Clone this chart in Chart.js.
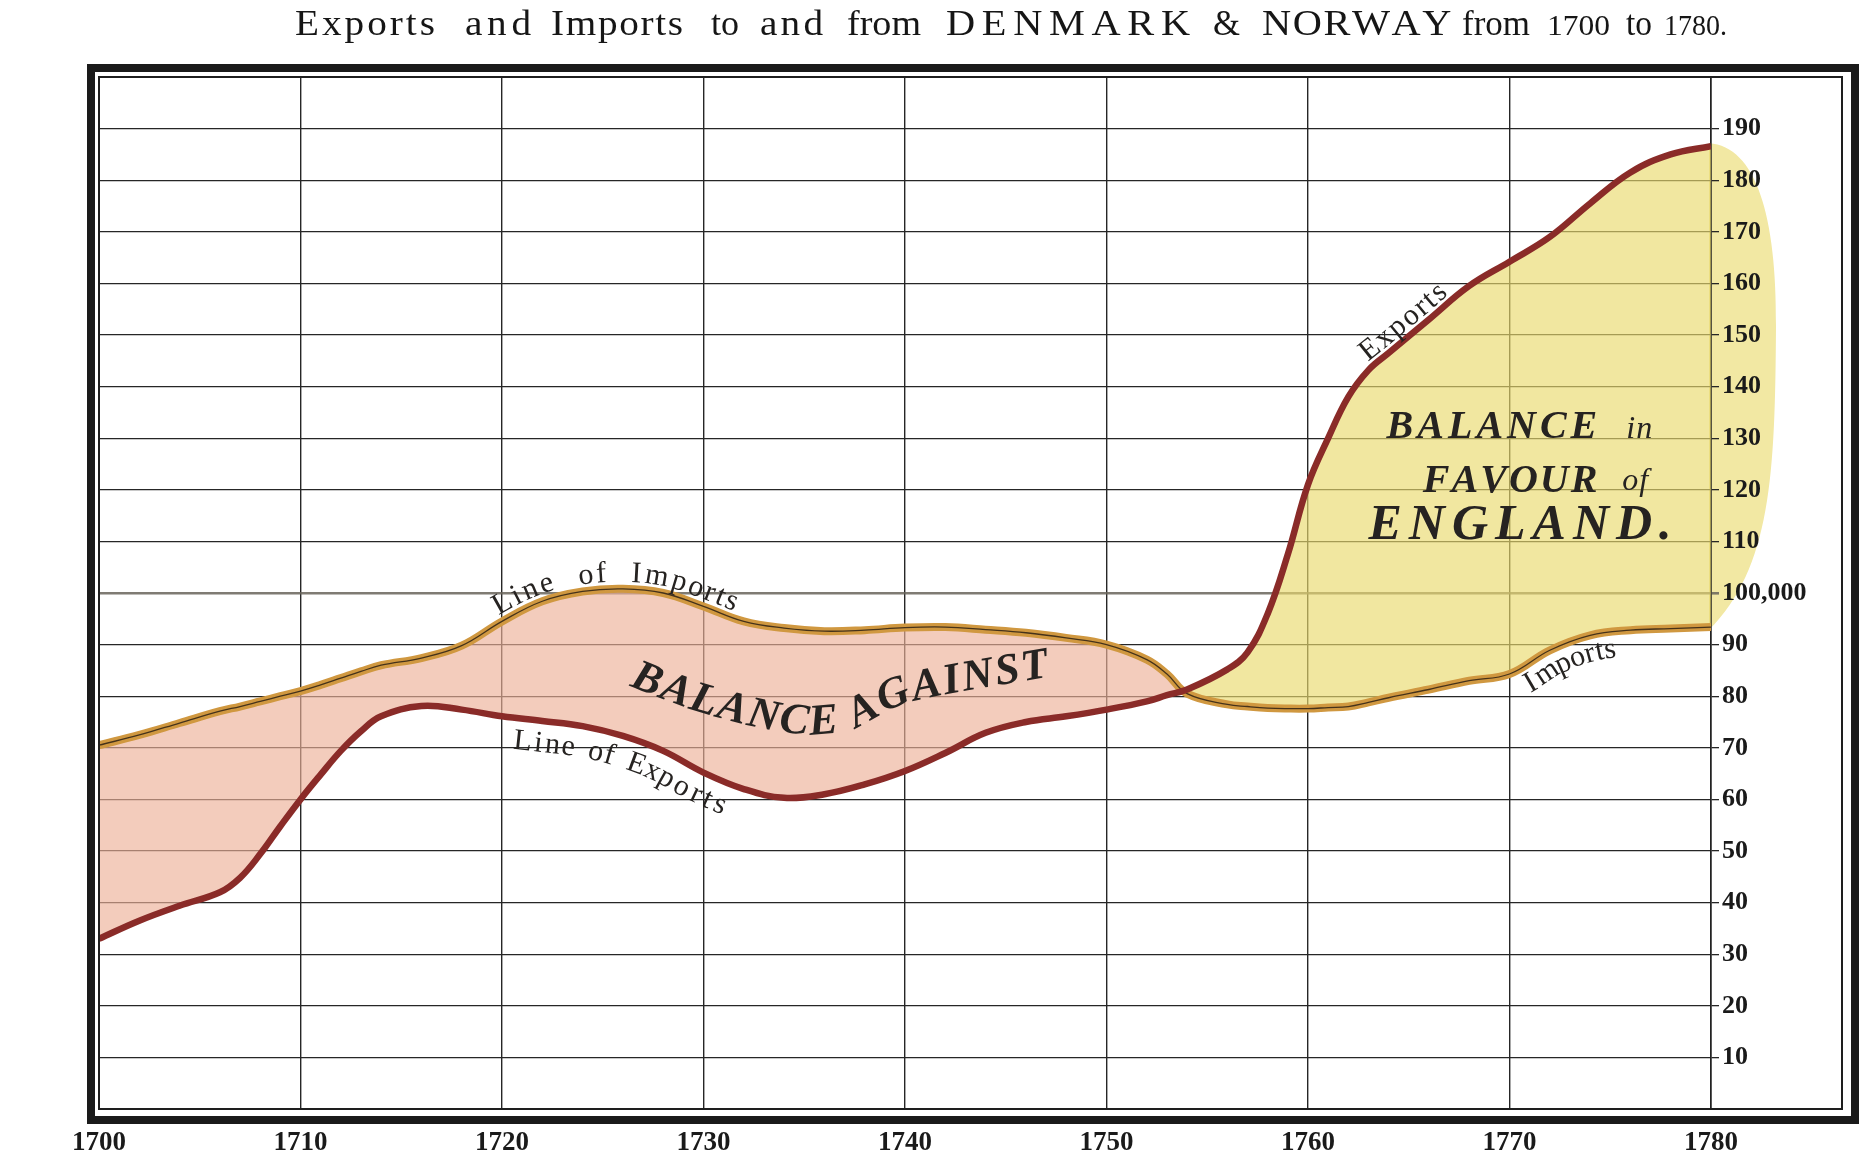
<!DOCTYPE html>
<html>
<head>
<meta charset="utf-8">
<script src="https://cdn.jsdelivr.net/npm/chart.js@4.4.0/dist/chart.umd.min.js"></script>
<style>
html,body{margin:0;padding:0;background:#ffffff;}
#wrap{width:1870px;height:1162px;position:relative;}
</style>
</head>
<body>
<div id="wrap"><canvas id="c"></canvas></div>
<script>
// ---- DATA (thousands of pounds) ----
const years = [1700,1702,1704,1706,1707,1708,1709,1710,1711,1712,1713,1714,
  1716,1718,1720,1722,1724,1726,1728,1730,
  1732,1734,1736,1738,1740,1742,1744,1746,1748,1750,
  1752,1753,1754,1756,1757,1758,1759,1760,1761,1762,1763,
  1764,1766,1768,1770,1772,1774,1776,1778,1780];
const importsValues = [70.5,72.5,74.8,77.1,78,79,80,81,82.2,83.5,84.8,86,
  87.4,89.8,94.5,98.4,100.3,100.8,100,97.4,
  94.5,93.2,92.6,92.8,93.3,93.4,92.9,92.3,91.3,90,
  87.1,84.3,80.5,78.4,78,77.7,77.6,77.6,77.8,78,78.8,
  79.7,81.3,83,84.3,88.9,91.8,92.8,93.1,93.4];
const exportsValues = [33,36.5,39.4,42,44.8,49.4,54.8,60,64.8,69.4,73.2,76.1,
  78.1,77.4,76.1,75.2,74.2,72.3,69.4,65.2,
  62,60.3,61,62.9,65.5,69,72.9,75,76.1,77.4,
  79,80.2,81.3,85.2,88.5,96,107.5,121,130,138,143.2,
  146.5,153,159.5,164.2,169,175.5,181.5,185,186.6];
const xTickValues = [1700,1710,1720,1730,1740,1750,1760,1770,1780];
const xTickLabels = ['1700','1710','1720','1730','1740','1750','1760','1770','1780'];
const yTickValues = [10,20,30,40,50,60,70,80,90,100,110,120,130,140,150,160,170,180,190];
const yTickLabels = ['10','20','30','40','50','60','70','80','90','100,000','110','120','130','140','150','160','170','180','190'];
const titleWords = ['Exports','and','Imports','to','and','from','DENMARK','&','NORWAY','from','1700','to','1780.'];
const seriesNames = ['Exports','Imports'];

const exportsPts = years.map((x,i)=>({x, y: exportsValues[i]}));
const importsPts = years.map((x,i)=>({x, y: importsValues[i]}));

const SERIF = '"Liberation Serif", "DejaVu Serif", serif';
const INK = '#262321';

// ---- helpers ----
function samplePath(meta){
  const pts = meta.data, out = [];
  for (let i=0;i<pts.length-1;i++){
    const a=pts[i], b=pts[i+1];
    const c1x = a.cp2x ?? a.x, c1y = a.cp2y ?? a.y, c2x = b.cp1x ?? b.x, c2y = b.cp1y ?? b.y;
    for (let k=0;k<12;k++){
      const t=k/12, u=1-t;
      out.push({x:u*u*u*a.x+3*u*u*t*c1x+3*u*t*t*c2x+t*t*t*b.x,
                y:u*u*u*a.y+3*u*u*t*c1y+3*u*t*t*c2y+t*t*t*b.y});
    }
  }
  const l = pts[pts.length-1]; out.push({x:l.x,y:l.y});
  return out;
}
function catmull(P){
  const out=[];
  for (let i=0;i<P.length-1;i++){
    const p0=P[i-1]||P[i], p1=P[i], p2=P[i+1], p3=P[i+2]||P[i+1];
    for (let k=0;k<20;k++){
      const t=k/20, t2=t*t, t3=t2*t;
      out.push({
        x:0.5*((2*p1.x)+(-p0.x+p2.x)*t+(2*p0.x-5*p1.x+4*p2.x-p3.x)*t2+(-p0.x+3*p1.x-3*p2.x+p3.x)*t3),
        y:0.5*((2*p1.y)+(-p0.y+p2.y)*t+(2*p0.y-5*p1.y+4*p2.y-p3.y)*t2+(-p0.y+3*p1.y-3*p2.y+p3.y)*t3)});
    }
  }
  out.push(P[P.length-1]);
  return out;
}
function textAlong(ctx, poly, text, startX, offset, spacing, wordGap){
  const cum=[0];
  for (let i=1;i<poly.length;i++) cum.push(cum[i-1]+Math.hypot(poly[i].x-poly[i-1].x, poly[i].y-poly[i-1].y));
  const at = (s)=>{
    s = Math.max(0, Math.min(cum[cum.length-1], s));
    let j=0; while (j<cum.length-2 && cum[j+1]<s) j++;
    const f = (s-cum[j])/((cum[j+1]-cum[j])||1);
    return {x:poly[j].x+(poly[j+1].x-poly[j].x)*f, y:poly[j].y+(poly[j+1].y-poly[j].y)*f};
  };
  let i0 = poly.findIndex(p=>p.x>=startX); if (i0<0) i0=0;
  let s = cum[i0];
  for (const ch of text){
    const w = ctx.measureText(ch).width;
    if (ch===' '){ s += w + wordGap; continue; }
    const m = s + w/2;
    const p = at(m), pa = at(m-8), pb = at(m+8);
    const ang = Math.atan2(pb.y-pa.y, pb.x-pa.x);
    ctx.save();
    ctx.translate(p.x - Math.sin(ang)*offset, p.y + Math.cos(ang)*offset);
    ctx.rotate(ang);
    ctx.fillText(ch, -w/2, 0);
    ctx.restore();
    s += w + spacing;
  }
}
function drawSpaced(ctx, text, x, y, spacing){
  let cx = x;
  for (const ch of text){
    ctx.fillText(ch, cx, y);
    cx += ctx.measureText(ch).width + spacing;
  }
}

// ---- plugins ----
const blobPlugin = {
  id:'blob',
  beforeDraw(chart){
    const {ctx, chartArea:ca, scales:{y}} = chart;
    const yTop = y.getPixelForValue(exportsValues[exportsValues.length-1]);
    const yBot = y.getPixelForValue(importsValues[importsValues.length-1]);
    const x0 = ca.right;
    ctx.save();
    ctx.fillStyle = 'rgb(242,232,163)';
    ctx.beginPath();
    ctx.moveTo(x0-2, yTop-3);
    ctx.bezierCurveTo(x0+45, yTop, x0+66, yTop+70, x0+65, yTop+180);
    ctx.bezierCurveTo(x0+64, yTop+330, x0+60, yBot-60, x0-2, yBot+3);
    ctx.closePath();
    ctx.fill();
    ctx.restore();
  }
};

const decoPlugin = {
  id:'deco',
  afterDatasetsDraw(chart){
    const {ctx, scales:{x,y}} = chart;
    ctx.save();
    ctx.fillStyle = INK;
    const expPoly = samplePath(chart.getDatasetMeta(0));
    const impPoly = samplePath(chart.getDatasetMeta(1));

    ctx.font = '30px ' + SERIF;
    ctx.textBaseline = 'alphabetic';
    textAlong(ctx, impPoly, 'Line of Imports', x.getPixelForValue(1719.9), -7, 2, 14);
    textAlong(ctx, expPoly, 'Exports', x.getPixelForValue(1763.1), -6, 2, 0);
    ctx.textBaseline = 'top';
    textAlong(ctx, expPoly, 'Line of Exports', x.getPixelForValue(1720.6), 8, 2.5, 6);
    textAlong(ctx, impPoly, 'Imports', x.getPixelForValue(1770.3), 3, 2, 0);

    // BALANCE AGAINST (curved)
    const anchors = [[1726.3,82.0],[1730.1,76.6],[1734.3,72.9],[1737.3,73.6],[1740.3,78.9],[1746.7,83.5]]
      .map(a=>({x:x.getPixelForValue(a[0]), y:y.getPixelForValue(a[1])}));
    ctx.textBaseline = 'alphabetic';
    ctx.font = 'italic bold 44px ' + SERIF;
    textAlong(ctx, catmull(anchors), 'BALANCE AGAINST', -1, 0, 2, 4);

    // BALANCE in FAVOUR of ENGLAND.
    ctx.font = 'italic bold 40px ' + SERIF;
    drawSpaced(ctx, 'BALANCE', x.getPixelForValue(1763.9), y.getPixelForValue(130), 4);
    drawSpaced(ctx, 'FAVOUR', x.getPixelForValue(1765.7), y.getPixelForValue(119.6), 2);
    ctx.font = 'italic bold 50px ' + SERIF;
    drawSpaced(ctx, 'ENGLAND.', x.getPixelForValue(1763.0), y.getPixelForValue(110.5), 7);
    ctx.font = 'italic 32px ' + SERIF;
    drawSpaced(ctx, 'in', x.getPixelForValue(1775.8), y.getPixelForValue(130), 1);
    drawSpaced(ctx, 'of', x.getPixelForValue(1775.6), y.getPixelForValue(120), 1);
    ctx.restore();
  },
  afterDraw(chart){
    const {ctx, chartArea:ca} = chart;
    ctx.save();
    // inner frame
    ctx.strokeStyle = '#1e1e1e';
    ctx.lineWidth = 2;
    ctx.strokeRect(ca.left, ca.top, 1842 - ca.left, ca.bottom - ca.top);
    // outer heavy frame
    ctx.lineWidth = 8;
    ctx.strokeStyle = '#1a1a1a';
    ctx.strokeRect(91, 68, 1855-91, 1120-68);

    // title: each word fitted to its place
    const slots = [[295,435],[465,531],[551,683],[711,739],[760,823],[847,921],
      [946,1190],[1213,1240],[1262,1441],[1462,1530],[1547,1610],[1626,1652],[1664,1727]];
    ctx.fillStyle = '#161616';
    ctx.textBaseline = 'alphabetic';
    titleWords.forEach((w,i)=>{
      const caps = /^[A-Z&]+$/.test(w);
      const num = /^[0-9.]+$/.test(w);
      ctx.font = (caps ? '36px ' : num ? '30px ' : '35px ') + SERIF;
      const [l,r] = slots[i];
      const target = r - l;
      const nat = ctx.measureText(w).width;
      const sx = Math.min(1.12, target/nat);
      const chars = [...w];
      const spacing = chars.length>1 ? (target - nat*sx)/(chars.length-1) : 0;
      let cx = chars.length>1 ? l : l + (target - nat*sx)/2;
      for (const ch of chars){
        const cw = ctx.measureText(ch).width*sx;
        ctx.save(); ctx.translate(cx, 35); ctx.scale(sx,1); ctx.fillText(ch,0,0); ctx.restore();
        cx += cw + spacing;
      }
    });
    ctx.restore();
  }
};

const gridCol = (v)=> (v<=0 || v>=200) ? 'rgba(0,0,0,0)' : (v===100 ? 'rgba(105,100,90,0.85)' : '#262626');

new Chart(document.getElementById('c'), {
  type:'line',
  data:{
    datasets:[
      { label: seriesNames[0], data: exportsPts, borderColor:'#8a2b28', borderWidth:6.5,
        pointRadius:0, tension:0.4,
        fill:{target:1, above:'rgba(233,218,109,0.65)', below:'rgba(237,176,152,0.65)'} },
      { label: seriesNames[1], data: importsPts, borderColor:'#45321a', borderWidth:1.3,
        pointRadius:0, tension:0.4, fill:false },
      { label: seriesNames[1] + ' band', data: importsPts, borderColor:'#d09840', borderWidth:8,
        pointRadius:0, tension:0.4, fill:false }
    ]
  },
  options:{
    responsive:true, maintainAspectRatio:false, animation:false, devicePixelRatio:1,
    events:[],
    layout:{padding:{left:99, top:77, right:0, bottom:0}},
    plugins:{
      legend:{display:false}, tooltip:{enabled:false}, title:{display:false},
      filler:{drawTime:'beforeDatasetsDraw'}
    },
    scales:{
      x:{
        type:'linear', min:1700, max:1780,
        afterBuildTicks(s){ s.ticks = xTickValues.map(v=>({value:v})); },
        afterFit(s){ s.height = 53; },
        grid:{color:'#262626', lineWidth:1.4, drawTicks:false},
        border:{display:true, color:'#262626', width:1.4},
        ticks:{
          autoSkip:false, maxRotation:0, padding:18, color:'#1a1a1a',
          font:{family:SERIF, size:27, weight:'bold'},
          callback:(v)=>{ const i=xTickValues.indexOf(v); return i>=0 ? xTickLabels[i] : ''; }
        }
      },
      y:{
        type:'linear', position:'right', min:0, max:200,
        afterBuildTicks(s){ s.ticks = [0, ...yTickValues, 200].map(v=>({value:v})); },
        afterFit(s){ s.width = 159; },
        grid:{
          color:(c)=>gridCol(c.tick.value),
          tickColor:(c)=>gridCol(c.tick.value),
          lineWidth:(c)=> c.tick.value===100 ? 2.6 : 1.3,
          tickLength:8, drawTicks:true
        },
        border:{display:true, color:'#222', width:1.6},
        ticks:{
          padding:3, color:'#1a1a1a',
          font:{family:SERIF, size:26, weight:'bold'},
          callback:(v)=>{ const i=yTickValues.indexOf(v); return i>=0 ? yTickLabels[i] : ''; }
        }
      }
    }
  },
  plugins:[blobPlugin, decoPlugin]
});
</script>
</body>
</html>
